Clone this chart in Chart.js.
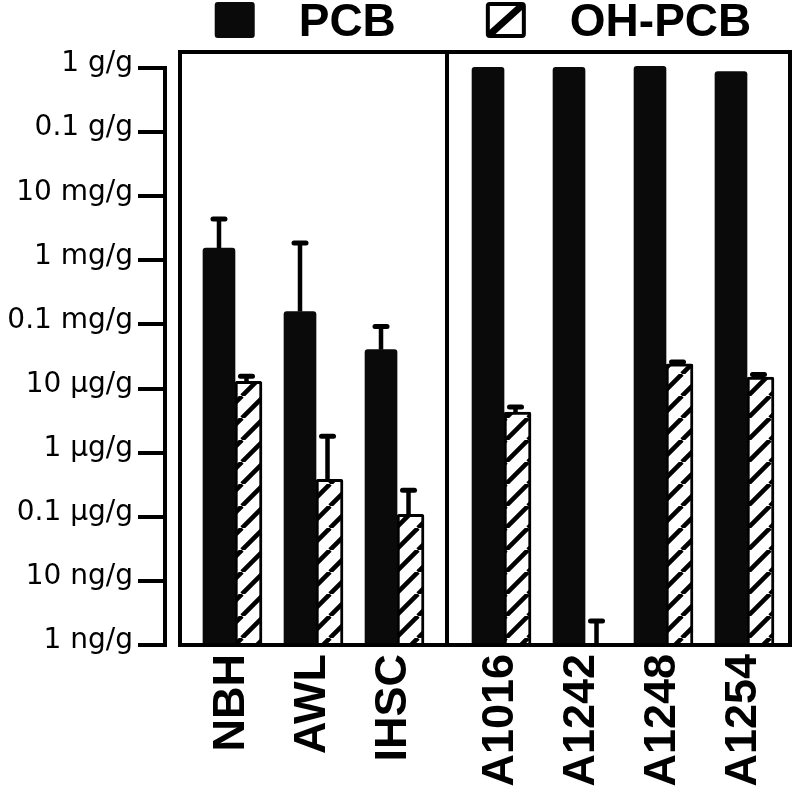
<!DOCTYPE html>
<html>
<head>
<meta charset="utf-8">
<script src="https://cdn.jsdelivr.net/npm/chart.js@4.4.1/dist/chart.umd.min.js"></script>
<style>
  html, body { margin: 0; padding: 0; background: #ffffff; }
  #wrap { width: 800px; height: 795px; position: relative; }
</style>
</head>
<body>
<div id="wrap"><canvas id="chart"></canvas></div>
<script>
// ---------------- data (values in g/g) ----------------
const fieldSamples = ['NBH', 'AWL', 'IHSC'];
const aroclors = ['A1016', 'A1242', 'A1248', 'A1254'];
const seriesNames = ['PCB', 'OH-PCB'];

const pcbField      = [1.55e-3, 1.59e-4, 4.04e-5];
const pcbFieldHigh  = [4.43e-3, 1.87e-3, 9.3e-5];
const ohField       = [1.3e-5, 3.85e-7, 1.09e-7];
const ohFieldHigh   = [1.55e-5, 1.8e-6, 2.6e-7];

const pcbAroclor     = [1.02, 1.02, 1.06, 0.88];
const ohAroclor      = [4.3e-6, null, 2.44e-5, 1.51e-5];
const ohAroclorHigh  = [5.15e-6, 2.37e-9, 2.59e-5, 1.66e-5];

const tickValues = [1e-9, 1e-8, 1e-7, 1e-6, 1e-5, 1e-4, 1e-3, 1e-2, 1e-1, 1];
const tickLabels = ['1 ng/g', '10 ng/g', '0.1 \u03BCg/g', '1 \u03BCg/g', '10 \u03BCg/g',
                    '0.1 mg/g', '1 mg/g', '10 mg/g', '0.1 g/g', '1 g/g'];

// ---------------- styling / layout constants ----------------
const BOLD = '"Liberation Sans", Arial, Helvetica, sans-serif';
const REG = '"DejaVu Sans", sans-serif';
const UNIT = 81;               // px per category step
const PCB_W = 32, OH_W = 27;   // bar thicknesses (px)
const PCB_SHIFT = -PCB_W / 2 / UNIT;   // PCB bar sits left of the category point
const OH_SHIFT = OH_W / 2 / UNIT;      // OH-PCB bar sits right of it
const LEFT_RANGE = [-0.864, 2.617];    // left panel axis window (category units)
const RIGHT_RANGE = [-0.704, 3.531];   // right panel axis window
const LEFT_WEIGHT = 282, RIGHT_WEIGHT = 343;

function hatchPattern(size, lw) {
  const c = document.createElement('canvas');
  c.width = size; c.height = size;
  const g = c.getContext('2d');
  g.fillStyle = '#ffffff';
  g.fillRect(0, 0, size, size);
  g.strokeStyle = '#000000';
  g.lineWidth = lw;
  g.beginPath();
  for (const k of [-1, 0, 1]) {
    g.moveTo(k * size, size);
    g.lineTo(k * size + size, 0);
  }
  g.stroke();
  return g.createPattern(c, 'repeat');
}
const hatch = hatchPattern(22, 4.6);

const toXY = arr => arr.map((v, i) => ({ x: i, y: v }));

function labelFor(v) {
  for (let i = 0; i < tickValues.length; i++) {
    if (Math.abs(Math.log10(v) - Math.log10(tickValues[i])) < 1e-6) return tickLabels[i];
  }
  return '';
}

function noPad(s) {
  s.paddingLeft = 0; s.paddingRight = 0; s.paddingTop = 0; s.paddingBottom = 0;
}

// ---------------- plugins ----------------
const errorBars = {
  id: 'errorBars',
  afterDatasetsDraw(chart) {
    const ctx = chart.ctx;
    const ys = chart.scales.y;
    chart.data.datasets.forEach((ds, di) => {
      if (!ds.errHigh) return;
      const meta = chart.getDatasetMeta(di);
      meta.data.forEach((bar, i) => {
        const hi = ds.errHigh[i];
        if (hi == null) return;
        const v = ds.data[i].y;
        const y0 = v == null ? ys.bottom : ys.getPixelForValue(v);
        const y1 = ys.getPixelForValue(hi);
        const x = bar.x - (ds.capShift || 0);
        ctx.save();
        ctx.strokeStyle = '#000';
        ctx.lineWidth = 4.5;
        ctx.lineCap = 'butt';
        ctx.beginPath();
        ctx.moveTo(x, y0);
        ctx.lineTo(x, y1);
        ctx.stroke();
        ctx.lineWidth = 5;
        ctx.lineCap = 'round';
        ctx.beginPath();
        ctx.moveTo(x - 6, y1);
        ctx.lineTo(x + 6, y1);
        ctx.stroke();
        ctx.restore();
      });
    });
  }
};

const panelFrame = {
  id: 'panelFrame',
  afterDatasetsDraw(chart) {
    const { ctx, chartArea: a, scales } = chart;
    const L = a.left + 15, T = a.top - 16;
    ctx.save();
    ctx.strokeStyle = '#000';
    ctx.lineWidth = 4;
    ctx.lineJoin = 'miter';
    ctx.strokeRect(L, T, a.right - L, a.bottom - T);
    const xd = scales.xR.left;
    ctx.beginPath();
    ctx.moveTo(xd, T);
    ctx.lineTo(xd, a.bottom);
    ctx.stroke();
    ctx.restore();
  }
};

function roundRect(ctx, x, y, w, h, r) {
  ctx.beginPath();
  ctx.moveTo(x + r, y);
  ctx.lineTo(x + w - r, y);
  ctx.quadraticCurveTo(x + w, y, x + w, y + r);
  ctx.lineTo(x + w, y + h - r);
  ctx.quadraticCurveTo(x + w, y + h, x + w - r, y + h);
  ctx.lineTo(x + r, y + h);
  ctx.quadraticCurveTo(x, y + h, x, y + h - r);
  ctx.lineTo(x, y + r);
  ctx.quadraticCurveTo(x, y, x + r, y);
  ctx.closePath();
}

const topLegend = {
  id: 'topLegend',
  afterDraw(chart) {
    const { ctx, chartArea: a } = chart;
    const boxW = 40, boxH = 36, gapText = 44, gapItem = 90, top = 2, baseline = 36;
    ctx.save();
    ctx.font = 'bold 46px ' + BOLD;
    const widths = seriesNames.map(t => ctx.measureText(t).width);
    const total = seriesNames.length * (boxW + gapText) + widths.reduce((s, w) => s + w, 0) + gapItem * (seriesNames.length - 1);
    const cx = (a.left + 15 + a.right) / 2;
    let x = cx - total / 2 - 2;
    seriesNames.forEach((t, i) => {
      if (i === 0) {
        ctx.fillStyle = '#0a0a0a';
        roundRect(ctx, x, top, boxW, boxH, 3);
        ctx.fill();
      } else {
        ctx.fillStyle = '#fff';
        roundRect(ctx, x + 2, top + 2, boxW - 4, boxH - 4, 2);
        ctx.fill();
        ctx.save();
        ctx.clip();
        ctx.strokeStyle = '#000';
        ctx.lineWidth = 7;
        ctx.beginPath();
        ctx.moveTo(x, top + boxH);
        ctx.lineTo(x + boxW, top);
        ctx.stroke();
        ctx.restore();
        ctx.strokeStyle = '#000';
        ctx.lineWidth = 4;
        roundRect(ctx, x + 2, top + 2, boxW - 4, boxH - 4, 2);
        ctx.stroke();
      }
      ctx.fillStyle = '#000';
      ctx.textBaseline = 'alphabetic';
      ctx.textAlign = 'left';
      ctx.fillText(t, x + boxW + gapText, baseline);
      x += boxW + gapText + widths[i] + gapItem;
    });
    ctx.restore();
  }
};

// ---------------- chart ----------------
const xTickStyle = {
  minRotation: 90, maxRotation: 90, autoSkip: false, padding: 9,
  labelOffset: PCB_W / 2 - 3,
  color: '#000', font: { family: BOLD, size: 45, weight: 'bold' }
};

function panelAxis(cats, range, weight) {
  return {
    type: 'linear', position: 'bottom', stack: 'panels', stackWeight: weight,
    min: range[0] - PCB_SHIFT, max: range[1] - PCB_SHIFT, offset: false,
    afterBuildTicks: s => { s.ticks = cats.map((c, i) => ({ value: i })); },
    afterFit: s => { s.height = 150; noPad(s); },
    grid: { display: false, drawTicks: false },
    border: { display: false },
    ticks: Object.assign({ callback: v => cats[v] }, xTickStyle)
  };
}
function hiddenAxis(range, weight) {
  return {
    type: 'linear', position: 'bottom', stack: 'hidden', stackWeight: weight, display: false,
    min: range[0] - OH_SHIFT, max: range[1] - OH_SHIFT, offset: false
  };
}

const pcbStyle = { backgroundColor: '#0a0a0a', borderWidth: 0, borderRadius: 3, borderSkipped: 'start',
                   barThickness: PCB_W, grouped: false };
const ohStyle = { backgroundColor: hatch, borderColor: '#000', borderWidth: 3, borderRadius: 2,
                  borderSkipped: 'start', barThickness: OH_W, grouped: false, capShift: 2 };

new Chart(document.getElementById('chart'), {
  type: 'bar',
  data: {
    datasets: [
      Object.assign({ label: seriesNames[0], xAxisID: 'xL', yAxisID: 'y', data: toXY(pcbField), errHigh: pcbFieldHigh }, pcbStyle),
      Object.assign({ label: seriesNames[1], xAxisID: 'xLo', yAxisID: 'y', data: toXY(ohField), errHigh: ohFieldHigh }, ohStyle),
      Object.assign({ label: seriesNames[0], xAxisID: 'xR', yAxisID: 'y', data: toXY(pcbAroclor), errHigh: null }, pcbStyle),
      Object.assign({ label: seriesNames[1], xAxisID: 'xRo', yAxisID: 'y', data: toXY(ohAroclor), errHigh: ohAroclorHigh }, ohStyle)
    ]
  },
  options: {
    responsive: true,
    maintainAspectRatio: false,
    animation: false,
    events: [],
    layout: { padding: { top: 68, right: 10, bottom: 0, left: 0 } },
    plugins: { legend: { display: false }, tooltip: { enabled: false }, title: { display: false } },
    datasets: { bar: { clip: false } },
    scales: {
      xL: panelAxis(fieldSamples, LEFT_RANGE, LEFT_WEIGHT),
      xR: panelAxis(aroclors, RIGHT_RANGE, RIGHT_WEIGHT),
      xLo: hiddenAxis(LEFT_RANGE, LEFT_WEIGHT),
      xRo: hiddenAxis(RIGHT_RANGE, RIGHT_WEIGHT),
      y: {
        type: 'logarithmic', position: 'left', min: 1e-9, max: 1, stacked: false,
        afterBuildTicks: s => { s.ticks = tickValues.map(v => ({ value: v })); },
        afterFit: s => { s.width = 165; noPad(s); },
        grid: { display: true, drawOnChartArea: false, drawTicks: true, tickLength: 27,
                tickWidth: 4, tickColor: '#000', lineWidth: 4, color: '#000' },
        border: { display: true, width: 4, color: '#000' },
        ticks: { callback: v => labelFor(v), autoSkip: false, padding: 5, labelOffset: -4,
                 color: '#000', font: { family: REG, size: 28 } }
      }
    }
  },
  plugins: [panelFrame, errorBars, topLegend]
});
</script>
</body>
</html>
